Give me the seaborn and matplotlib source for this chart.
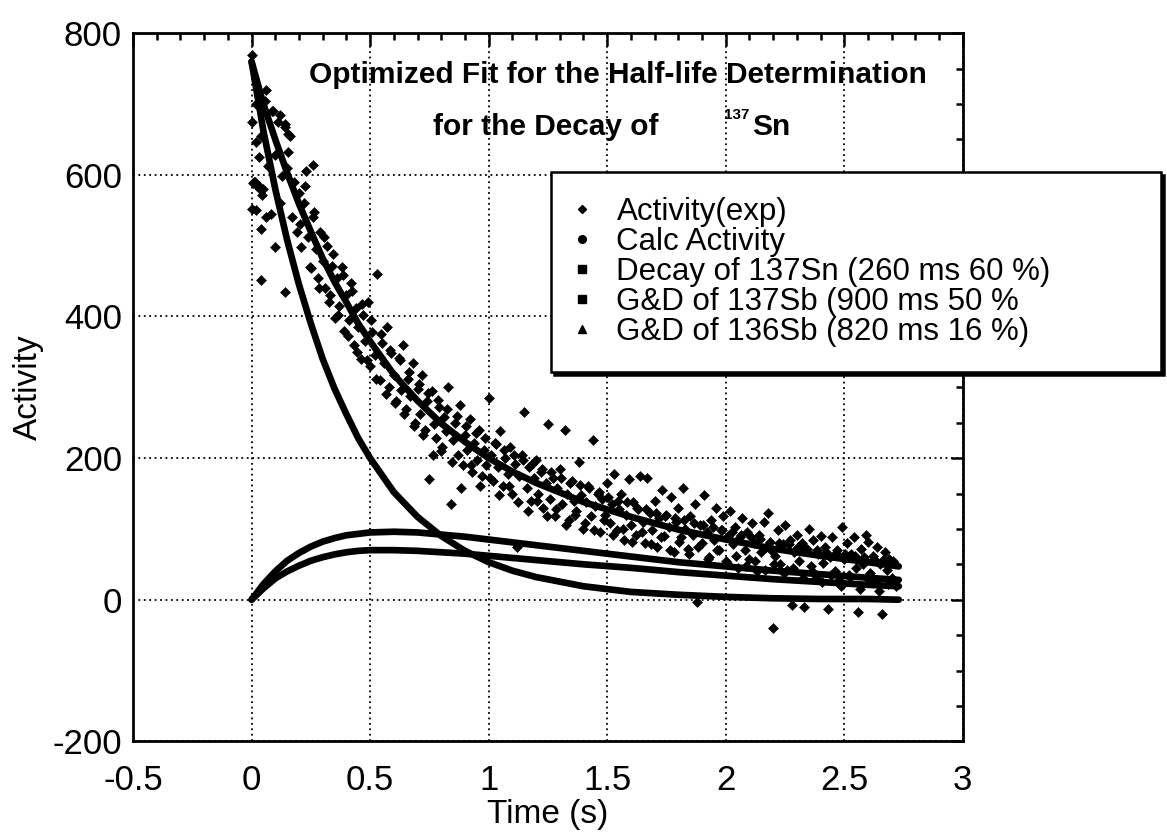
import numpy as np
import pandas as pd
import matplotlib
matplotlib.use("Agg")
import matplotlib.pyplot as plt
from matplotlib.lines import Line2D
import seaborn as sns

# ---------------- data ----------------
t_exp = [0.00, 0.01, 0.02, 0.03, 0.04, 0.05, 0.06, 0.07, 0.08, 0.09,
         0.10, 0.11, 0.12, 0.13, 0.14, 0.15, 0.16, 0.17, 0.18, 0.19,
         0.20, 0.21, 0.22, 0.23, 0.24, 0.25, 0.26, 0.27, 0.28, 0.29,
         0.30, 0.31, 0.32, 0.33, 0.34, 0.35, 0.36, 0.37, 0.38, 0.39,
         0.40, 0.41, 0.42, 0.43, 0.44, 0.45, 0.46, 0.47, 0.48, 0.49,
         0.50, 0.51, 0.52, 0.53, 0.54, 0.55, 0.56, 0.57, 0.58, 0.59,
         0.60, 0.61, 0.62, 0.63, 0.64, 0.65, 0.66, 0.67, 0.68, 0.69,
         0.70, 0.71, 0.72, 0.73, 0.74, 0.75, 0.76, 0.77, 0.78, 0.79,
         0.80, 0.81, 0.82, 0.83, 0.84, 0.85, 0.86, 0.87, 0.88, 0.89,
         0.90, 0.91, 0.92, 0.93, 0.94, 0.95, 0.96, 0.97, 0.98, 0.99,
         1.00, 1.01, 1.02, 1.03, 1.04, 1.05, 1.06, 1.07, 1.08, 1.09,
         1.10, 1.11, 1.12, 1.13, 1.14, 1.15, 1.16, 1.17, 1.18, 1.19,
         1.20, 1.21, 1.22, 1.23, 1.24, 1.25, 1.26, 1.27, 1.28, 1.29,
         1.30, 1.31, 1.32, 1.33, 1.34, 1.35, 1.36, 1.37, 1.38, 1.39,
         1.40, 1.41, 1.42, 1.43, 1.44, 1.45, 1.46, 1.47, 1.48, 1.49,
         1.50, 1.51, 1.52, 1.53, 1.54, 1.55, 1.56, 1.57, 1.58, 1.59,
         1.60, 1.61, 1.62, 1.63, 1.64, 1.65, 1.66, 1.67, 1.68, 1.69,
         1.70, 1.71, 1.72, 1.73, 1.74, 1.75, 1.76, 1.77, 1.78, 1.79,
         1.80, 1.81, 1.82, 1.83, 1.84, 1.85, 1.86, 1.87, 1.88, 1.89,
         1.90, 1.91, 1.92, 1.93, 1.94, 1.95, 1.96, 1.97, 1.98, 1.99,
         2.00, 2.01, 2.02, 2.03, 2.04, 2.05, 2.06, 2.07, 2.08, 2.09,
         2.10, 2.11, 2.12, 2.13, 2.14, 2.15, 2.16, 2.17, 2.18, 2.19,
         2.20, 2.21, 2.22, 2.23, 2.24, 2.25, 2.26, 2.27, 2.28, 2.29,
         2.30, 2.31, 2.32, 2.33, 2.34, 2.35, 2.36, 2.37, 2.38, 2.39,
         2.40, 2.41, 2.42, 2.43, 2.44, 2.45, 2.46, 2.47, 2.48, 2.49,
         2.50, 2.51, 2.52, 2.53, 2.54, 2.55, 2.56, 2.57, 2.58, 2.59,
         2.60, 2.61, 2.62, 2.63, 2.64, 2.65, 2.66, 2.67, 2.68, 2.69,
         2.70, 2.71, 2.72]
y_exp = [770, 590, 700, 585, 655, 580, 720, 612, 545, 690,
         628, 675, 560, 598, 668, 610, 655, 540, 590, 520,
         575, 498, 560, 605, 512, 468, 540, 495, 455, 520,
         478, 440, 500, 430, 472, 398, 455, 415, 470, 380,
         430, 395, 448, 360, 412, 385, 340, 402, 365, 420,
         330, 378, 345, 460, 310, 362, 335, 385, 300, 348,
         318, 280, 342, 296, 360, 270, 312, 288, 335, 250,
         298, 262, 318, 240, 280, 170, 295, 248, 228, 272,
         210, 258, 238, 300, 135, 226, 250, 205, 275, 190,
         232, 212, 255, 180, 222, 198, 240, 175, 212, 190,
         285, 205, 168, 220, 188, 238, 160, 200, 178, 215,
         150, 192, 75, 175, 205, 265, 158, 188, 140, 172,
         198, 150, 180, 130, 165, 248, 142, 172, 118, 158,
         185, 135, 240, 150, 112, 168, 140, 125, 195, 148,
         100, 138, 160, 118, 225, 132, 150, 95, 142, 120,
         165, 108, 135, 178, 98, 128, 150, 85, 120, 170,
         105, 138, 92, 128, 175, 110, 80, 172, 122, 98,
         140, 75, 115, 155, 90, 120, 102, 145, 68, 110,
         130, 88, 158, 100, 72, 118, 92, 135, -3, 105,
         80, 148, 95, 60, 112, 85, 130, 70, 98, 118,
         55, 90, 125, 78, 102, 45, 88, 115, 70, 95,
         58, 108, 80, 40, 92, 68, 110, 75, 122, 70,
         -40, 62, 98, 50, 78, 105, 42, 85, -7, 68,
         92, 55, 80, -10, 72, 100, 48, 85, 30, 65,
         90, 52, 75, -13, 60, 88, 40, 70, 28, 102,
         58, 80, 35, 65, 88, 45, -17, 72, 50, 92,
         81, 38, 62, 25, 75, 50, -20, 68, 42, 58,
         30, 52, 20]
# second pass of readings between the first ones
t_exp_mid = [0.205, 0.225, 0.245, 0.265, 0.285, 0.305, 0.325, 0.345, 0.365, 0.385,
             0.405, 0.425, 0.445, 0.465, 0.485, 0.505, 0.525, 0.545, 0.565, 0.585,
             0.605, 0.625, 0.645, 0.665, 0.685, 0.705, 0.725, 0.745, 0.765, 0.785,
             0.805, 0.825, 0.845, 0.865, 0.885, 0.905, 0.925, 0.945, 0.965, 0.985,
             1.005, 1.025, 1.045, 1.065, 1.085, 1.105, 1.125, 1.145, 1.165, 1.185,
             1.205, 1.225, 1.245, 1.265, 1.285, 1.305, 1.325, 1.345, 1.365, 1.385,
             1.405, 1.425, 1.445, 1.465, 1.485, 1.505, 1.525, 1.545, 1.565, 1.585,
             1.605, 1.625, 1.645, 1.665, 1.685, 1.705, 1.725, 1.745, 1.765, 1.785,
             1.805, 1.825, 1.845, 1.865, 1.885, 1.905, 1.925, 1.945, 1.965, 1.985,
             2.005, 2.025, 2.045, 2.065, 2.085, 2.105, 2.125, 2.145, 2.165, 2.185,
             2.205, 2.225, 2.245, 2.265, 2.285, 2.305, 2.325, 2.345, 2.365, 2.385,
             2.405, 2.425, 2.445, 2.465, 2.485, 2.505, 2.525, 2.545, 2.565, 2.585,
             2.605, 2.625, 2.645, 2.665, 2.685, 2.705]
y_exp_mid = [530, 585, 470, 548, 440, 512, 420, 488, 402, 458,
             372, 436, 350, 418, 338, 395, 312, 375, 290, 352,
             278, 338, 262, 322, 245, 305, 232, 292, 205, 282,
             215, 270, 195, 260, 158, 245, 190, 236, 160, 228,
             172, 222, 148, 212, 160, 205, 138, 198, 125, 192,
             140, 185, 118, 180, 128, 172, 105, 165, 120, 162,
             108, 158, 98, 152, 112, 145, 92, 140, 100, 138,
             82, 130, 95, 128, 78, 122, 88, 118, 70, 116,
             82, 112, 65, 108, 75, 105, 58, 102, 70, 98,
             52, 95, 62, 92, 48, 88, 55, 86, 42, 82,
             50, 80, 38, 78, 45, 75, 30, 72, 40, 70,
             25, 68, 35, 66, 20, 64, 32, 62, 15, 60,
             28, 58, 12, 56, 22, 55]
# extra early points (dense cluster near t = 0)
t_exp_early = [0.0, 0.005, 0.015, 0.025, 0.035, 0.045, 0.02, 0.04, 0.06, 0.10, 0.04,
               0.14, 0.0, 0.02, 0.03, 0.12, 0.14, 0.155, 0.155, 0.26, 0.055, 0.085]
y_exp_early = [552, 588, 590, 584, 580, 572, 550, 523, 540, 498, 452,
               434, 675, 647, 625, 685, 672, 658, 633, 614, 705, 690]

t_fit = [0, 0.05, 0.1, 0.15, 0.2, 0.25, 0.3, 0.35, 0.4, 0.45, 0.5, 0.6, 0.7, 0.8,
         0.9, 1.0, 1.1, 1.2, 1.4, 1.6, 1.8, 2.0, 2.2, 2.4, 2.6, 2.73]
calc_act = [760, 700, 650, 603, 559, 520, 482, 449, 420, 390, 365, 318, 281, 249,
            223, 200, 181, 165, 138, 117, 99, 85, 72, 62, 53, 47]
decay_sn137 = [760, 662, 580, 508, 445, 390, 340, 298, 262, 228, 200, 152, 117, 90,
               69, 53, 41, 32, 19, 11, 7, 4, 2, 1, 1, 0]
gd_sb137 = [0, 22, 40, 55, 66, 75, 82, 87, 91, 93, 95, 96, 95, 92,
            89, 85, 81, 77, 69, 61, 53, 47, 41, 36, 31, 28]
gd_sb136 = [0, 16, 30, 40, 48, 55, 60, 64, 67, 69, 70, 70, 69, 67,
            65, 62, 59, 56, 50, 45, 39, 34, 29, 25, 21, 19]

legend_labels = ["Activity(exp)", "Calc Activity", "Decay of 137Sn (260 ms 60 %)",
                 "G&D of 137Sb (900 ms 50 %", "G&D of 136Sb (820 ms 16 %)"]
x_ticks = [-0.5, 0, 0.5, 1, 1.5, 2, 2.5, 3]
x_ticklabels = ["-0.5", "0", "0.5", "1", "1.5", "2", "2.5", "3"]
y_ticks = [-200, 0, 200, 400, 600, 800]
y_ticklabels = ["-200", "0", "200", "400", "600", "800"]

# ---------------- style ----------------
sns.set_style("white")
plt.rcParams["font.family"] = ["Liberation Sans", "DejaVu Sans"]
plt.rcParams["axes.unicode_minus"] = False
plt.rcParams["text.color"] = "black"
plt.rcParams["axes.labelcolor"] = "black"
plt.rcParams["xtick.color"] = "black"
plt.rcParams["ytick.color"] = "black"

fig = plt.figure(figsize=(11.67, 8.32), dpi=100)
ax = fig.add_axes([0.114, 0.109, 0.711, 0.851])

exp_df = pd.DataFrame({"t": t_exp + t_exp_mid + t_exp_early,
                       "y": y_exp + y_exp_mid + y_exp_early})
fit_df = pd.DataFrame({"t": t_fit, "calc": calc_act, "sn": decay_sn137,
                       "sb137": gd_sb137, "sb136": gd_sb136})

for col in ["sb136", "sb137", "sn", "calc"]:
    sns.lineplot(data=fit_df, x="t", y=col, ax=ax, color="black", linewidth=4.8,
                 sort=False, estimator=None, legend=False, zorder=3)
sns.scatterplot(data=exp_df, x="t", y="y", ax=ax, marker="D", s=26, color="black",
                edgecolor="black", linewidth=0.4, legend=False, zorder=4)

ax.set_xlim(-0.5, 3)
ax.set_ylim(-200, 800)
ax.set_xticks(x_ticks)
ax.set_xticklabels(x_ticklabels)
ax.set_yticks(y_ticks)
ax.set_yticklabels(y_ticklabels)
ax.set_xticks(np.arange(-0.5, 3.001, 0.1), minor=True)
ax.set_yticks(np.arange(-200, 801, 50), minor=True)
ax.tick_params(which="both", direction="in", top=True, right=True, colors="black",
               width=1.8)
ax.tick_params(which="major", length=9, labelsize=25)
ax.tick_params(which="minor", length=5)
ax.tick_params(axis="x", which="major", pad=16)
ax.tick_params(axis="y", which="major", pad=8)
for sp in ax.spines.values():
    sp.set_color("black")
    sp.set_linewidth(2.0)
ax.grid(True, which="major", color="black", linestyle=(0, (1, 2)), linewidth=1.3)
ax.set_axisbelow(True)

ax.set_xlabel("Time (s)", fontsize=24, labelpad=2, color="black")
ax.set_ylabel("Activity", fontsize=24, labelpad=6, color="black")

# in-plot title
ax.text(0.585, 0.941, "Optimized Fit for the Half-life Determination", transform=ax.transAxes,
        ha="center", va="center", fontsize=21.5, fontweight="bold", color="black")
ax.text(0.362, 0.867, "for the Decay of", transform=ax.transAxes,
        ha="left", va="center", fontsize=21.5, fontweight="bold", color="black")
ax.text(0.712, 0.885, "137", transform=ax.transAxes,
        ha="left", va="center", fontsize=11, fontweight="bold", color="black")
ax.text(0.746, 0.867, "Sn", transform=ax.transAxes,
        ha="left", va="center", fontsize=21.5, fontweight="bold", color="black")

handles = [
    Line2D([], [], ls="none", marker="D", ms=4.5, color="black"),
    Line2D([], [], ls="none", marker="o", ms=5.5, color="black"),
    Line2D([], [], ls="none", marker="s", ms=5.5, color="black"),
    Line2D([], [], ls="none", marker="s", ms=5.5, color="black"),
    Line2D([], [], ls="none", marker="^", ms=5.5, color="black"),
]
leg = fig.legend(handles, legend_labels, loc="upper left",
                 bbox_to_anchor=(0.472, 0.549, 0.523, 0.244), mode="expand",
                 borderaxespad=0,
                 fontsize=22.5, frameon=True, fancybox=False, framealpha=1,
                 edgecolor="black", borderpad=0.8, handlelength=0.4,
                 handletextpad=0.9, labelspacing=0.0,
                 shadow={"color": "black", "alpha": 1})
leg.get_frame().set_linewidth(1.8)
for txt in leg.get_texts():
    txt.set_color("black")

fig.savefig("out.png", dpi=100)
